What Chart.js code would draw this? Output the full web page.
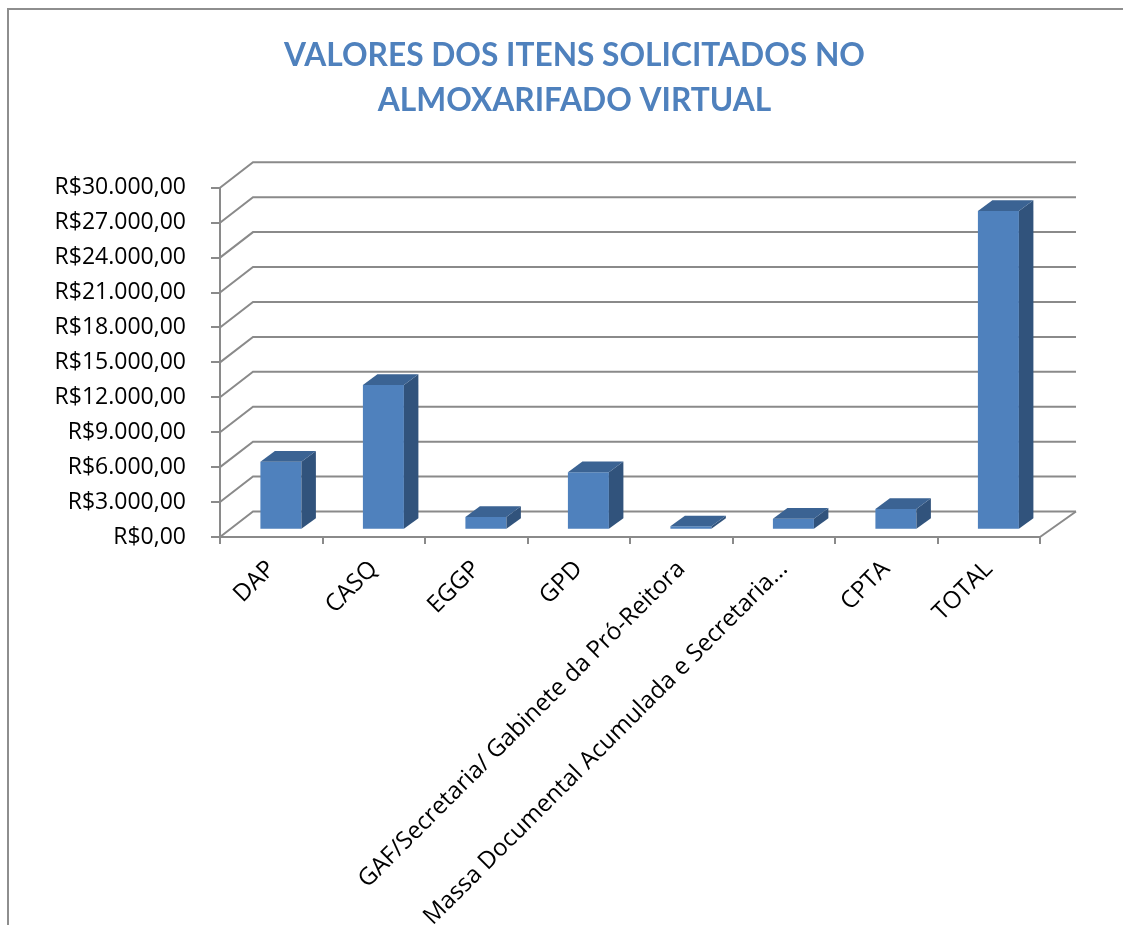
<!DOCTYPE html>
<html><head><meta charset="utf-8">
<script src="https://cdn.jsdelivr.net/npm/chart.js@4.4.1/dist/chart.umd.min.js"></script>
<style>html,body{margin:0;padding:0;background:#fff;} #wrap{width:1123px;height:925px;position:relative;}</style>
</head><body><div id="wrap"><canvas id="c" width="1123" height="925"></canvas></div>
<script>
const categories = ['DAP', 'CASQ', 'EGGP', 'GPD', 'GAF/Secretaria/ Gabinete da Pró-Reitora', 'Massa Documental Acumulada e Secretaria...', 'CPTA', 'TOTAL'];
const values = [5850, 12450, 1100, 4950, 300, 950, 1800, 27400];
const yTickValues = [0, 3000, 6000, 9000, 12000, 15000, 18000, 21000, 24000, 27000, 30000];
const yTickLabels = ['R$0,00', 'R$3.000,00', 'R$6.000,00', 'R$9.000,00', 'R$12.000,00', 'R$15.000,00', 'R$18.000,00', 'R$21.000,00', 'R$24.000,00', 'R$27.000,00', 'R$30.000,00'];
const titleLines = ['VALORES DOS ITENS SOLICITADOS NO', 'ALMOXARIFADO VIRTUAL'];

const GRID = '#8a8a8a';
const DEPTH_L = 33, DEPTH_R = 36, DEPTH_Y = 25.5;
const DEPTH_MID = (DEPTH_L + DEPTH_R) / 2;
const BAR_F0 = 0.28, BAR_F1 = 0.70;
const FRONT = '#4F81BD', SIDE = '#31537C', TOP = '#3B6393';

const box3d = {
  id: 'box3d',
  beforeDraw(chart) {
    const ctx = chart.ctx;
    ctx.save();
    ctx.strokeStyle = '#8e8e8e';
    ctx.lineWidth = 2;
    ctx.beginPath();
    ctx.moveTo(8, chart.height);
    ctx.lineTo(8, 9);
    ctx.lineTo(chart.width, 9);
    ctx.stroke();
    ctx.restore();
  },
  beforeDatasetsDraw(chart) {
    const { ctx, chartArea: a, scales: { y } } = chart;
    ctx.save();
    ctx.strokeStyle = GRID;
    ctx.lineWidth = 2;
    y.ticks.forEach(t => {
      const py = y.getPixelForValue(t.value);
      ctx.beginPath();
      ctx.moveTo(a.left, py);
      ctx.lineTo(a.left + DEPTH_L, py - DEPTH_Y);
      ctx.lineTo(a.right + DEPTH_R, py - DEPTH_Y);
      ctx.stroke();
    });
    const p0 = y.getPixelForValue(0);
    ctx.beginPath();
    ctx.moveTo(a.right, p0);
    ctx.lineTo(a.right + DEPTH_R, p0 - DEPTH_Y);
    ctx.stroke();
    ctx.restore();
    ctx.save();
    ctx.translate(BAR_F0 * DEPTH_MID, -BAR_F0 * DEPTH_Y);
  },
  afterDatasetsDraw(chart) {
    const ctx = chart.ctx;
    ctx.restore();
    const meta = chart.getDatasetMeta(0);
    const ox = BAR_F0 * DEPTH_MID, oy = -BAR_F0 * DEPTH_Y;
    const ddx = (BAR_F1 - BAR_F0) * DEPTH_MID, ddy = (BAR_F1 - BAR_F0) * DEPTH_Y;
    ctx.save();
    meta.data.forEach(el => {
      const p = el.getProps(['x', 'y', 'base', 'width'], true);
      const xl = p.x - p.width / 2 + ox, xr = p.x + p.width / 2 + ox;
      const yt = p.y + oy, yb = p.base + oy;
      ctx.fillStyle = SIDE;
      ctx.beginPath();
      ctx.moveTo(xr, yt); ctx.lineTo(xr + ddx, yt - ddy); ctx.lineTo(xr + ddx, yb - ddy); ctx.lineTo(xr, yb);
      ctx.closePath(); ctx.fill();
      ctx.fillStyle = TOP;
      ctx.beginPath();
      ctx.moveTo(xl, yt); ctx.lineTo(xr, yt); ctx.lineTo(xr + ddx, yt - ddy); ctx.lineTo(xl + ddx, yt - ddy);
      ctx.closePath(); ctx.fill();
    });
    ctx.restore();
  }
};

new Chart(document.getElementById('c'), {
  type: 'bar',
  data: {
    labels: categories,
    datasets: [{
      data: values,
      backgroundColor: FRONT,
      borderWidth: 0,
      barPercentage: 0.4,
      categoryPercentage: 1.0,
      clip: false
    }]
  },
  options: {
    responsive: false,
    animation: false,
    devicePixelRatio: 1,
    layout: { padding: { left: 26, right: 0, top: 0, bottom: 0 } },
    plugins: {
      legend: { display: false },
      tooltip: { enabled: false },
      title: {
        display: true,
        text: titleLines,
        color: '#4F81BD',
        font: { family: 'Lato', weight: 'bold', size: 31.7, lineHeight: 1.4 },
        padding: { top: 34, bottom: 65 }
      }
    },
    scales: {
      x: {
        grid: { drawOnChartArea: false, drawTicks: true, tickLength: 7, color: GRID, lineWidth: 2, offset: true },
        border: { display: true, color: GRID, width: 2 },
        ticks: {
          color: '#000', font: { family: 'Open Sans', size: 24 },
          minRotation: 45, maxRotation: 45, autoSkip: false, padding: 11
        },
        afterFit(scale) { scale.height = 925 - 537; scale.paddingRight = 83; scale.paddingLeft = 0; }
      },
      y: {
        min: 0, max: 30000,
        grid: { drawOnChartArea: false, drawTicks: true, tickLength: 9, color: GRID, lineWidth: 2 },
        border: { display: true, color: GRID, width: 2 },
        ticks: {
          stepSize: 3000, color: '#000', font: { family: 'Open Sans', size: 23 }, padding: 25,
          callback: (v) => { const i = yTickValues.indexOf(v); return i >= 0 ? yTickLabels[i] : ''; }
        },
        afterFit(scale) { scale.width = 220 - 26; }
      }
    }
  },
  plugins: [box3d]
});
</script>
</body></html>
